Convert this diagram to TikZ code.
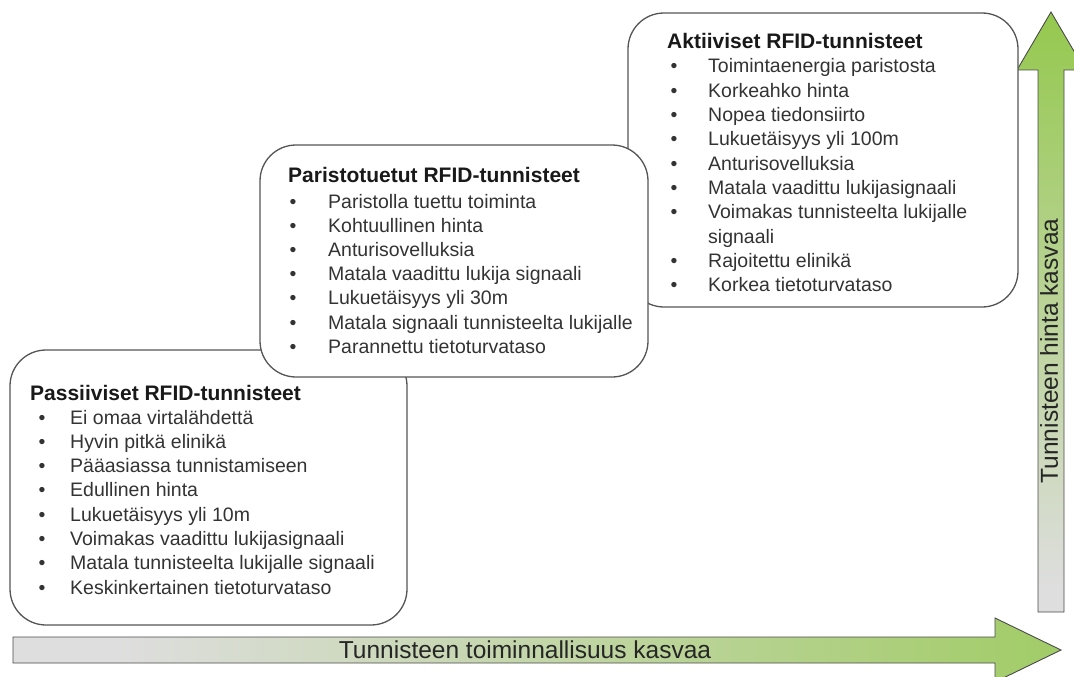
\documentclass[tikz,border=0pt]{standalone}
\usepackage{fontspec}
\setmainfont{Liberation Sans}
\definecolor{grayl}{HTML}{DEDEDE}
\definecolor{grn}{HTML}{8DC63F}
\definecolor{boxline}{HTML}{555555}
\definecolor{txt}{HTML}{333333}
\definecolor{arrline}{HTML}{4A4A4A}
\pgfdeclarehorizontalshading{hgrad}{100bp}{color(0bp)=(grayl); color(30bp)=(grayl); color(90bp)=(grn); color(100bp)=(grn)}
\pgfdeclareverticalshading{vgrad}{100bp}{color(0bp)=(grayl); color(27bp)=(grayl); color(80bp)=(grn); color(100bp)=(grn)}
\tikzset{
  rbox/.style={draw=boxline, line width=1.3pt, fill=white, rounded corners=36pt, inner sep=0pt},
  head/.style={anchor=base west, inner sep=0pt, font=\fontsize{21}{24}\selectfont\bfseries, text=black!90},
  item/.style={anchor=base west, inner sep=0pt, font=\fontsize{19.5}{23}\selectfont, text=txt},
  bul/.style={anchor=base, inner sep=0pt, font=\fontsize{19.5}{23}\selectfont, text=txt},
  arrtext/.style={inner sep=0pt, font=\fontsize{24.5}{28}\selectfont, text=black!85},
  bigarrow/.style={draw=arrline, line width=0.9pt}
}
\begin{document}
\begin{tikzpicture}[x=1pt,y=-1pt]
\useasboundingbox (0,0) rectangle (1074,677);
\clip (0,0) rectangle (1074,677);
\fill[white] (0,0) rectangle (1074,677);

% arrows
\path[bigarrow, shading=hgrad]
  (13,637) -- (995,637) -- (995,618) -- (1061,650) -- (995,682) -- (995,663) -- (13,663) -- cycle;
\path[bigarrow, shading=vgrad]
  (1038,612) -- (1038,70) -- (1017,70) -- (1051,12) -- (1085,70) -- (1064,70) -- (1064,612) -- cycle;
\node[arrtext] (htext) at (525,650) {Tunnisteen toiminnallisuus kasvaa};
\node[arrtext, rotate=90] (vtext) at (1049,351) {Tunnisteen hinta kasvaa};

% boxes
\node[rbox, minimum width=390pt, minimum height=294pt] (akti) at (823,160) {};
\node[rbox, minimum width=397pt, minimum height=275pt] (pass) at (208.5,487.5) {};
\node[rbox, minimum width=388pt, minimum height=232pt] (pari) at (454,261) {};

% Passiiviset
\node[head] (passh) at (30,400) {Passiiviset RFID-tunnisteet};
\foreach \t [count=\i] in {Ei omaa virtalähdettä, Hyvin pitkä elinikä, Pääasiassa tunnistamiseen, Edullinen hinta, Lukuetäisyys yli 10m, Voimakas vaadittu lukijasignaali, Matala tunnisteelta lukijalle signaali, Keskinkertainen tietoturvataso}{
  \node[bul] (passb\i) at (42,{424+24.3*(\i-1)}) {•};
  \node[item] (passi\i) at (70,{424+24.3*(\i-1)}) {\t};
}

% Paristotuetut
\node[head] (parih) at (288,182) {Paristotuetut RFID-tunnisteet};
\foreach \t [count=\i] in {Paristolla tuettu toiminta, Kohtuullinen hinta, Anturisovelluksia, Matala vaadittu lukija signaali, Lukuetäisyys yli 30m, Matala signaali tunnisteelta lukijalle, Parannettu tietoturvataso}{
  \node[bul] (parib\i) at (293,{208+24.2*(\i-1)}) {•};
  \node[item] (parii\i) at (328,{208+24.2*(\i-1)}) {\t};
}

% Aktiiviset
\node[head] (aktih) at (667,49) {Aktiiviset RFID-tunnisteet};
\foreach \t [count=\i] in {Toimintaenergia paristosta, Korkeahko hinta, Nopea tiedonsiirto, Lukuetäisyys yli 100m, Anturisovelluksia, Matala vaadittu lukijasignaali, Voimakas tunnisteelta lukijalle}{
  \node[bul] (aktib\i) at (674,{73+24.3*(\i-1)}) {•};
  \node[item] (aktii\i) at (708,{73+24.3*(\i-1)}) {\t};
}
\node[item] (aktii7b) at (708,243.1) {signaali};
\node[bul] (aktib8) at (674,267.4) {•};
\node[item] (aktii8) at (708,267.4) {Rajoitettu elinikä};
\node[bul] (aktib9) at (674,291.7) {•};
\node[item] (aktii9) at (708,291.7) {Korkea tietoturvataso};
\end{tikzpicture}
\end{document}
